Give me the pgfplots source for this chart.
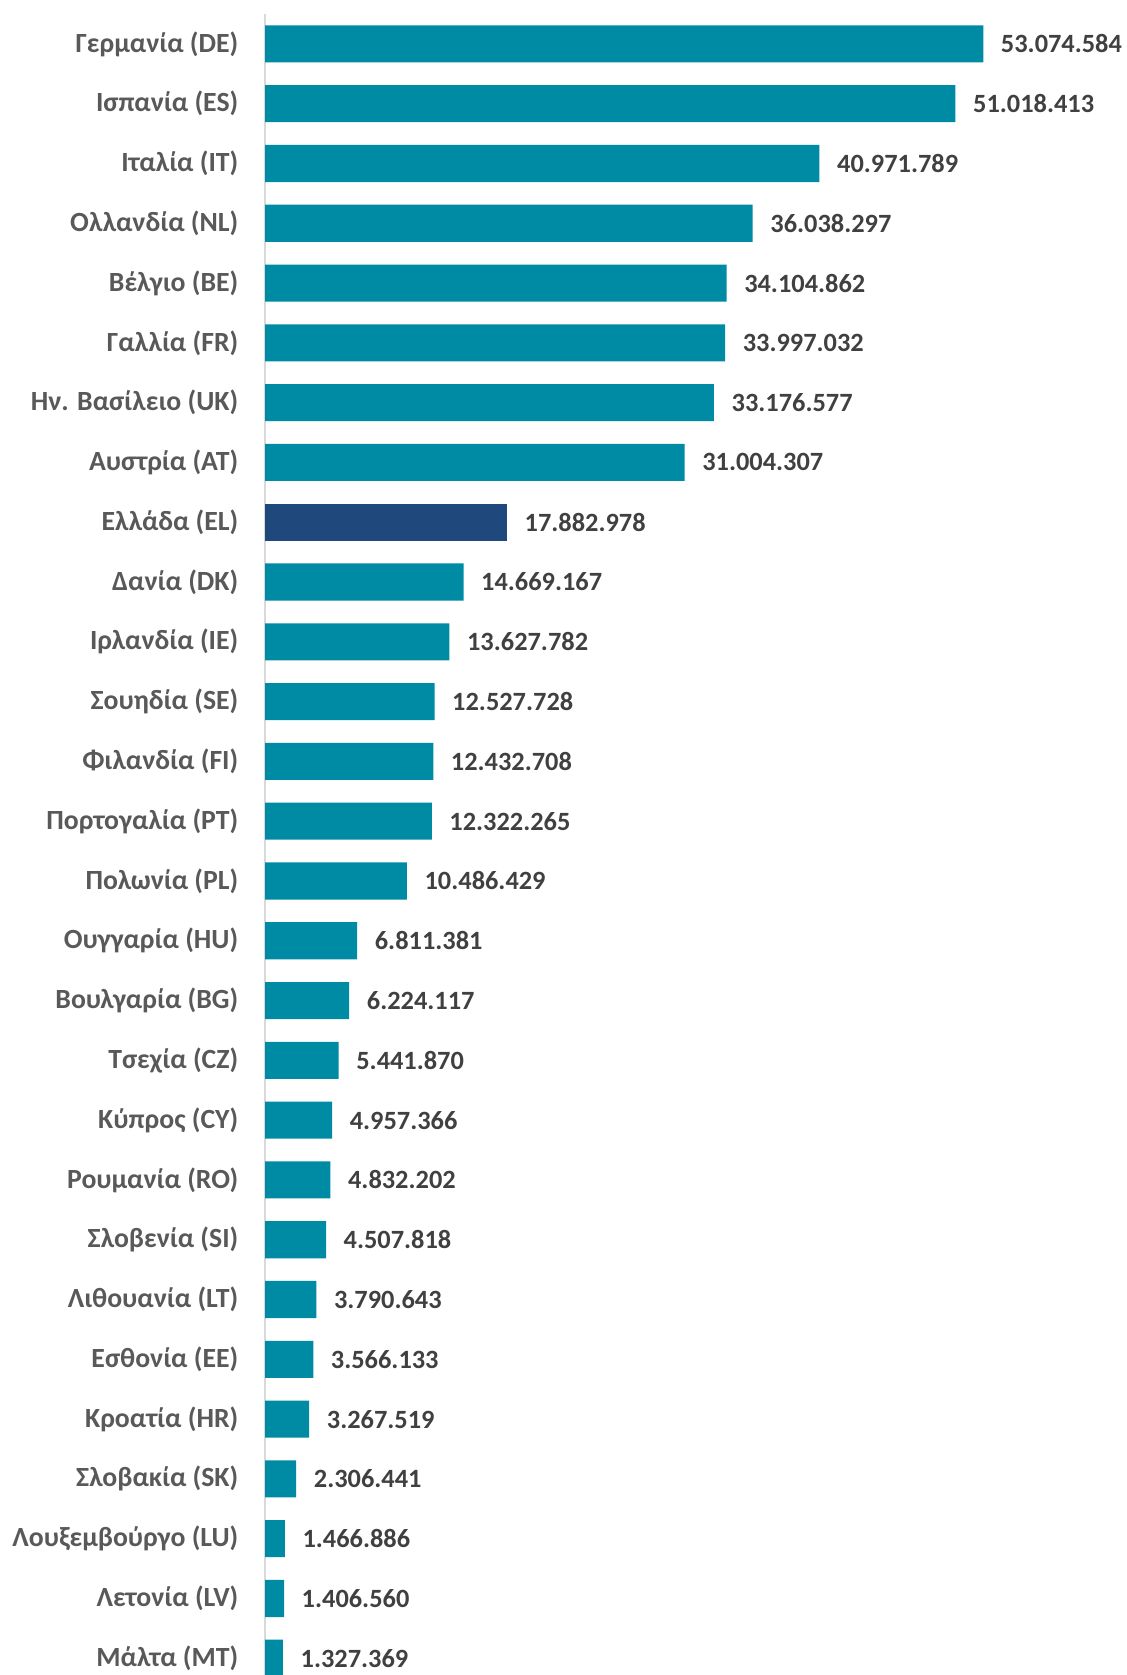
\documentclass[border=0pt]{standalone}
\usepackage{pgfplots}
\usepackage{pgfplotstable}
\usepackage{fontspec}
\setmainfont{Carlito}
\pgfplotsset{compat=1.18}
\definecolor{barteal}{RGB}{0,139,164}
\definecolor{bargreece}{RGB}{31,73,125}
\definecolor{labgrey}{RGB}{89,89,89}
\definecolor{valgrey}{RGB}{64,64,64}
\definecolor{axgrey}{RGB}{217,217,217}

% i = row from the top, v = value in millions, lab = printed value
\pgfplotstableread{
i v lab
0 53.074584 53.074.584
1 51.018413 51.018.413
2 40.971789 40.971.789
3 36.038297 36.038.297
4 34.104862 34.104.862
5 33.997032 33.997.032
6 33.176577 33.176.577
7 31.004307 31.004.307
9 14.669167 14.669.167
10 13.627782 13.627.782
11 12.527728 12.527.728
12 12.432708 12.432.708
13 12.322265 12.322.265
14 10.486429 10.486.429
15 6.811381 6.811.381
16 6.224117 6.224.117
17 5.441870 5.441.870
18 4.957366 4.957.366
19 4.832202 4.832.202
20 4.507818 4.507.818
21 3.790643 3.790.643
22 3.566133 3.566.133
23 3.267519 3.267.519
24 2.306441 2.306.441
25 1.466886 1.466.886
26 1.406560 1.406.560
27 1.327369 1.327.369
}\others
\pgfplotstableread{
i v lab
8 17.882978 17.882.978
}\greece

\begin{document}
\begin{tikzpicture}
\path[use as bounding box] (0,0) rectangle (11.26,16.75);
\begin{axis}[
    at={(2.65cm,0cm)}, anchor=south west,
    scale only axis,
    width=8.12cm, height=16.61cm,
    xmin=0, xmax=60,
    ymin=-0.5, ymax=27.28,
    y dir=reverse,
    axis x line=none,
    axis y line*=left,
    y axis line style={draw=axgrey, line width=0.02cm},
    ytick={0,...,27},
    yticklabels={{Γερμανία (DE)},{Ισπανία (ES)},{Ιταλία (IT)},{Ολλανδία (NL)},{Βέλγιο (BE)},{Γαλλία (FR)},{Ην. Βασίλειο (UK)},{Αυστρία (AT)},{Ελλάδα (EL)},{Δανία (DK)},{Ιρλανδία (IE)},{Σουηδία (SE)},{Φιλανδία (FI)},{Πορτογαλία (PT)},{Πολωνία (PL)},{Ουγγαρία (HU)},{Βουλγαρία (BG)},{Τσεχία (CZ)},{Κύπρος (CY)},{Ρουμανία (RO)},{Σλοβενία (SI)},{Λιθουανία (LT)},{Εσθονία (EE)},{Κροατία (HR)},{Σλοβακία (SK)},{Λουξεμβούργο (LU)},{Λετονία (LV)},{Μάλτα (MT)}},
    ytick style={draw=none},
    yticklabel style={font=\fontsize{7.9}{9.5}\selectfont\bfseries, text=labgrey, inner sep=0pt, xshift=-0.11cm},
    xbar, bar shift=0pt, bar width=0.62,
    clip=false,
    point meta=explicit symbolic,
    nodes near coords,
    every node near coord/.append style={font=\fontsize{7.5}{9}\selectfont\bfseries, text=valgrey, anchor=west, inner sep=0pt, xshift=0.17cm},
]
\addplot[draw=none, fill=barteal] table[x=v, y=i, meta=lab] {\others};
\addplot[draw=none, fill=bargreece] table[x=v, y=i, meta=lab] {\greece};
\end{axis}
\end{tikzpicture}
\end{document}
